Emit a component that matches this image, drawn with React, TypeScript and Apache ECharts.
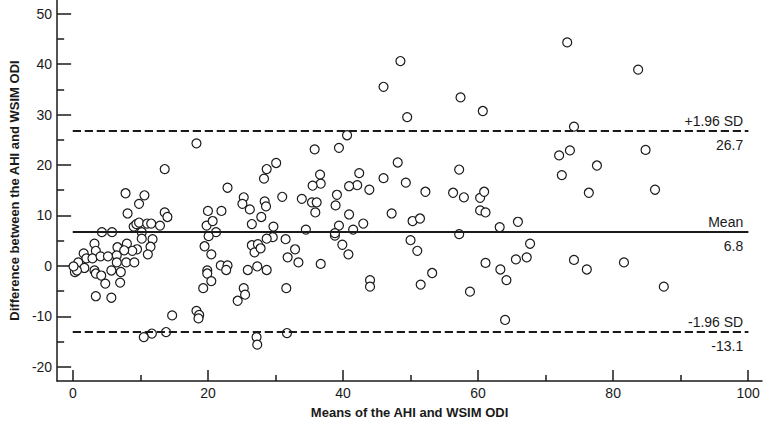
import React, { useEffect, useRef } from "react";
import * as echarts from "echarts";

// Bland-Altman points: [mean of AHI and WSIM ODI, difference]
const points: [number, number][] = [
  [13.6, 19.2], [7.8, 14.4], [10.6, 14.0], [9.8, 12.3], [8.1, 10.4], [13.6, 10.6], [14.0, 9.7],
  [9.0, 7.8], [9.4, 8.3], [9.8, 8.6], [11.0, 8.4], [11.6, 8.4], [12.9, 8.0], [10.2, 6.7],
  [4.3, 6.7], [5.8, 6.7], [10.2, 5.4], [11.8, 5.3], [3.2, 4.4], [8.0, 4.4], [11.5, 3.8],
  [6.6, 3.7], [9.5, 3.3], [1.6, 2.5], [3.4, 3.0], [8.8, 3.0], [7.6, 3.1], [11.1, 2.3],
  [2.0, 1.5], [2.9, 1.5], [4.1, 1.9], [5.2, 1.9], [6.5, 2.1], [0.8, 0.7], [6.5, 0.7],
  [7.9, 0.7], [9.1, 0.7], [0.3, -1.2], [1.7, -0.4], [0.6, -0.9], [0.1, -0.1], [3.2, -0.9], [5.7, -0.9],
  [7.1, -1.2], [3.4, -1.5], [4.2, -1.9], [4.8, -3.5], [7.0, -3.3], [3.4, -6.0], [5.7, -6.3],
  [14.7, -9.8], [18.3, -8.9], [18.7, -9.7], [18.6, -10.4], [13.8, -13.1], [11.7, -13.4], [10.5, -14.1],
  [20.0, 10.9], [19.8, 8.0], [20.7, 8.9], [21.2, 6.7], [20.1, 5.9], [19.5, 3.9], [20.5, 2.3],
  [19.9, -0.9], [19.9, -1.5], [20.5, -3.0], [19.3, -4.4], [18.3, 24.3],
  [40.6, 25.9], [35.8, 23.1], [39.4, 23.4], [30.1, 20.4], [28.7, 19.2], [28.3, 17.3], [22.9, 15.5],
  [36.6, 18.1], [36.7, 16.3], [35.5, 15.9], [42.4, 18.4], [42.1, 16.0], [40.9, 15.8], [25.3, 13.6],
  [25.1, 12.3], [26.2, 11.2], [31.0, 13.7], [28.4, 12.8], [28.6, 11.8], [33.9, 13.3], [35.4, 12.6],
  [36.1, 12.6], [35.9, 10.6], [39.1, 14.1], [38.9, 12.0], [40.9, 10.2], [22.0, 10.9], [27.9, 9.7],
  [26.5, 8.3], [29.7, 7.8], [43.0, 8.4], [39.4, 8.0], [34.5, 7.2], [38.8, 6.0], [38.8, 6.5],
  [41.5, 7.2], [29.6, 5.7], [28.7, 5.4], [31.5, 5.3], [32.9, 3.3], [31.8, 1.7], [33.4, 0.7],
  [36.7, 0.4], [39.9, 4.2], [40.8, 2.3], [26.5, 4.1], [26.9, 2.7], [27.4, 4.3], [27.8, 3.5],
  [21.9, 0.1], [22.9, 0.1], [22.7, -0.8], [25.9, -0.8], [27.3, -0.1], [28.7, -0.8], [25.3, -4.4],
  [25.5, -5.7], [24.4, -6.9], [31.6, -4.4], [31.7, -13.3], [27.2, -14.1], [27.3, -15.6],
  [48.5, 40.6], [46.0, 35.5], [57.4, 33.4], [60.7, 30.7], [49.5, 29.5], [48.1, 20.5], [46.0, 17.4],
  [43.9, 15.1], [49.3, 16.5], [52.2, 14.7], [57.2, 19.1], [56.3, 14.5], [57.9, 13.6], [60.3, 13.5],
  [60.9, 14.7], [60.3, 11.0], [61.1, 10.6], [47.2, 10.4], [50.3, 8.9], [51.4, 9.4], [63.2, 7.7],
  [57.2, 6.3], [50.0, 5.1], [51.0, 3.0], [53.2, -1.4], [44.0, -2.8], [44.0, -4.1], [51.5, -3.7],
  [58.8, -5.1], [61.1, 0.6], [63.3, -0.7], [64.2, -2.8], [65.6, 1.3], [64.0, -10.7],
  [73.2, 44.3], [83.7, 38.9], [74.2, 27.6], [73.6, 22.9], [72.0, 21.9], [84.8, 23.0], [77.6, 19.9],
  [72.4, 18.0], [76.4, 14.5], [86.2, 15.1], [65.9, 8.75], [67.7, 4.4], [67.2, 1.7], [74.2, 1.2],
  [76.1, -0.7], [81.6, 0.7], [87.5, -4.1],
];

const meanDiff = 6.8;
const upperLoA = 26.7;
const lowerLoA = -13.1;
const lineStart = 0;
const lineEnd = 100;

const xTickLabels = [0, 20, 40, 60, 80, 100];
const xMinorTicks = [10, 30, 50, 70, 90];
const yTickLabels = [-20, -10, 0, 10, 20, 30, 40, 50];
const yMinorTicks = [-15, -5, 5, 15, 25, 35, 45];

const xAxisTitle = "Means of the AHI and WSIM ODI";
const yAxisTitle = "Difference between the AHI and WSIM ODI";

const FONT = "'Liberation Sans', Arial, sans-serif";
const INK = "#1a1a1a";

export default function App() {
  const ref = useRef<HTMLDivElement>(null);

  useEffect(() => {
    if (!ref.current) return;
    const chart = echarts.init(ref.current, null, { renderer: "svg" });

    const xMin = -2.33;
    const xMax = 102.04;
    const yMin = -22.8;
    const yMax = 52.7;

    const refLine = (v: number, top: string, bottom: string, dashed: boolean) => {
      const lineStyle = { color: INK, width: 2, type: dashed ? [8, 4] : "solid" };
      const lbl = (text: string, pos: string, dy: number) => ({
        show: true,
        position: pos,
        formatter: text,
        fontSize: 14,
        fontFamily: FONT,
        color: INK,
        distance: [5, dy],
      });
      return [
        [
          { coord: [lineStart, v], lineStyle, label: lbl(top, "insideEndTop", 3) },
          { coord: [lineEnd, v] },
        ],
        [
          { coord: [lineStart, v], lineStyle, label: lbl(bottom, "insideEndBottom", 7) },
          { coord: [lineEnd, v] },
        ],
      ];
    };

    const axisLabelStyle = { fontSize: 14, fontFamily: FONT, color: INK };
    const nameStyle = { fontSize: 13, fontWeight: "bold", fontFamily: FONT, color: INK };

    chart.setOption({
      animation: false,
      backgroundColor: "#ffffff",
      grid: { left: 45, right: 2, top: 0, bottom: 33, containLabel: false },
      xAxis: [
        {
          type: "value",
          min: xMin,
          max: xMax,
          name: xAxisTitle,
          nameLocation: "middle",
          nameGap: 25,
          nameTextStyle: nameStyle,
          axisLine: { show: true, onZero: false, lineStyle: { color: INK, width: 1.5 } },
          axisTick: { show: true, inside: true, length: 11, customValues: xTickLabels, lineStyle: { color: INK, width: 1.5 } },
          axisLabel: { show: true, customValues: xTickLabels, margin: 5, ...axisLabelStyle },
          splitLine: { show: false },
        },
        {
          type: "value",
          min: xMin,
          max: xMax,
          position: "bottom",
          axisLine: { show: false, onZero: false },
          axisTick: { show: true, inside: true, length: 6, customValues: xMinorTicks, lineStyle: { color: INK, width: 1.5 } },
          axisLabel: { show: false },
          splitLine: { show: false },
        },
      ],
      yAxis: [
        {
          type: "value",
          min: yMin,
          max: yMax,
          name: yAxisTitle,
          nameLocation: "middle",
          nameGap: 33,
          nameRotate: 90,
          nameTextStyle: nameStyle,
          axisLine: { show: true, onZero: false, lineStyle: { color: INK, width: 1.5 } },
          axisTick: { show: true, inside: true, length: 14, customValues: yTickLabels, lineStyle: { color: INK, width: 1.5 } },
          axisLabel: { show: true, customValues: yTickLabels, margin: 5, ...axisLabelStyle },
          splitLine: { show: false },
        },
        {
          type: "value",
          min: yMin,
          max: yMax,
          position: "left",
          axisLine: { show: false, onZero: false },
          axisTick: { show: true, inside: true, length: 7, customValues: yMinorTicks, lineStyle: { color: INK, width: 1.5 } },
          axisLabel: { show: false },
          splitLine: { show: false },
        },
      ],
      series: [
        {
          type: "line",
          data: [],
          xAxisIndex: 0,
          yAxisIndex: 0,
          z: 1,
          markLine: {
            silent: true,
            symbol: ["none", "none"],
            animation: false,
            data: [
              ...refLine(upperLoA, "+1.96 SD", upperLoA.toFixed(1), true),
              ...refLine(meanDiff, "Mean", meanDiff.toFixed(1), false),
              ...refLine(lowerLoA, "-1.96 SD", lowerLoA.toFixed(1), true),
            ],
          },
        },
        {
          type: "scatter",
          data: points,
          xAxisIndex: 0,
          yAxisIndex: 0,
          z: 3,
          symbol: "circle",
          symbolSize: 9,
          itemStyle: { color: "#ffffff", borderColor: INK, borderWidth: 1.2, opacity: 1 },
          silent: true,
        },
      ],
    });

    return () => chart.dispose();
  }, []);

  return (
    <div
      ref={ref}
      style={{ position: "fixed", left: 0, top: 0, width: 764, height: 424, background: "#fff" }}
    />
  );
}
